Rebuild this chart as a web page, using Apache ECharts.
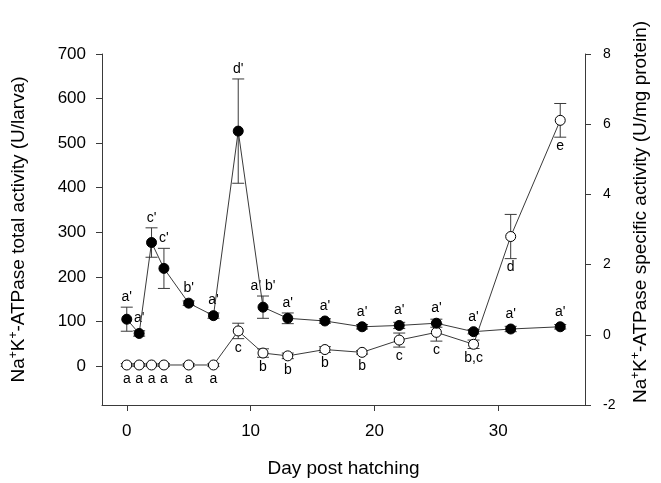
<!DOCTYPE html>
<html>
<head>
<meta charset="utf-8">
<script src="https://cdn.jsdelivr.net/npm/echarts@6/dist/echarts.min.js"></script>
<style>
  html, body { margin: 0; padding: 0; background: #fff; }
  #chart { width: 661px; height: 483px; }
</style>
</head>
<body>
<div id="chart"></div>
<script>
// day post hatching
const days = [0, 1, 2, 3, 5, 7, 9, 11, 13, 16, 19, 22, 25, 28, 31, 35];

// total activity (U/larva), left axis
const totalMean = [105, 73, 277, 219, 141, 113, 527, 132, 107, 101, 88, 91, 96, 77, 83, 88];
const totalSE = [27, 6, 33, 45, 5, 6, 117, 25, 12, 5, 5, 7, 9, 5, 6, 5];
const totalLetters = ["a'", "a'", "c'", "c'", "b'", "a'", "d'", "a' b'", "a'", "a'", "a'", "a'", "a'", "a'", "a'", "a'"];

// specific activity (U/mg protein), right axis
const specMean = [-0.86, -0.86, -0.86, -0.86, -0.86, -0.86, 0.11, -0.52, -0.6, -0.42, -0.5, -0.15, 0.07, -0.27, 2.8, 6.11];
const specSE = [0.04, 0.04, 0.04, 0.04, 0.04, 0.04, 0.22, 0.12, 0.08, 0.08, 0.05, 0.2, 0.25, 0.12, 0.63, 0.48];
const specLetters = ['a', 'a', 'a', 'a', 'a', 'a', 'c', 'b', 'b', 'b', 'b', 'c', 'c', 'b,c', 'd', 'e'];

const xTicks = [0, 10, 20, 30];
const leftTicks = [0, 100, 200, 300, 400, 500, 600, 700];

const font = 'Liberation Sans, Arial, sans-serif';
const ink = '#3a3a3a';

const totalPts = days.map((d, i) => [d, totalMean[i]]);
const specPts = days.map((d, i) => [d, specMean[i]]);
const totalBars = days.map((d, i) => [d, totalMean[i], totalSE[i], totalLetters[i]]);
const specBars = days.map((d, i) => [d, specMean[i], specSE[i], specLetters[i]]);

// error bar + significance letter; above for filled, below for open
function errorBar(above) {
  return function (params, api) {
    const x = api.value(0), m = api.value(1), se = api.value(2);
    const letter = api.value(3);
    const hi = api.coord([x, m + se]);
    const lo = api.coord([x, m - se]);
    const mid = api.coord([x, m]);
    const cap = 6;
    const st = { stroke: ink, lineWidth: 1 };
    const ty = above ? Math.min(hi[1], mid[1] - 5) - 3 : Math.max(lo[1], mid[1] + 5) + 2;
    return {
      type: 'group',
      children: [
        { type: 'line', shape: { x1: hi[0], y1: hi[1], x2: lo[0], y2: lo[1] }, style: st },
        { type: 'line', shape: { x1: hi[0] - cap, y1: hi[1], x2: hi[0] + cap, y2: hi[1] }, style: st },
        { type: 'line', shape: { x1: lo[0] - cap, y1: lo[1], x2: lo[0] + cap, y2: lo[1] }, style: st },
        {
          type: 'text',
          style: {
            x: mid[0], y: ty, text: letter,
            fontFamily: font, fontSize: 14, fill: '#000',
            align: 'center', verticalAlign: above ? 'bottom' : 'top'
          }
        }
      ]
    };
  };
}

function titleRich(tail) {
  return {
    formatter: '{n|Na}{s|+}{n|K}{s|+}{n|' + tail + '}',
    rich: {
      n: { fontFamily: font, fontSize: 19, color: '#000' },
      s: { fontFamily: font, fontSize: 12, color: '#000', verticalAlign: 'top', padding: [0, 0, 10, 0] }
    }
  };
}

const leftTitle = titleRich('-ATPase total activity (U/larva)');
const rightTitle = titleRich('-ATPase specific activity (U/mg protein)');

const chart = echarts.init(document.getElementById('chart'));

chart.setOption({
  backgroundColor: '#fff',
  animation: false,
  grid: { left: 99, right: 76, top: 54, bottom: 78 },
  xAxis: {
    type: 'value',
    min: -2,
    max: 37,
    name: 'Day post hatching',
    nameLocation: 'middle',
    nameGap: 54,
    nameTextStyle: { fontFamily: font, fontSize: 19, color: '#000' },
    splitLine: { show: false },
    axisLine: { onZero: false, lineStyle: { color: ink } },
    axisTick: { customValues: xTicks, length: 6, lineStyle: { color: ink } },
    axisLabel: { customValues: xTicks, fontFamily: font, fontSize: 17, color: '#000', margin: 18 }
  },
  yAxis: [
    {
      type: 'value',
      min: -87.5,
      max: 700,
      position: 'left',
      name: leftTitle.formatter,
      nameLocation: 'middle',
      nameRotate: 90,
      nameGap: 72,
      nameTextStyle: { rich: leftTitle.rich },
      splitLine: { show: false },
      axisLine: { show: true, onZero: false, lineStyle: { color: ink } },
      axisTick: { show: true, customValues: leftTicks, length: 6, lineStyle: { color: ink } },
      axisLabel: { customValues: leftTicks, fontFamily: font, fontSize: 17, color: '#000', margin: 16 }
    },
    {
      type: 'value',
      min: -2,
      max: 8,
      interval: 2,
      position: 'right',
      splitLine: { show: false },
      axisLine: { show: true, onZero: false, lineStyle: { color: ink } },
      axisTick: { show: true, length: 6, lineStyle: { color: ink } },
      axisLabel: { fontFamily: font, fontSize: 14, color: '#000', margin: 18 }
    }
  ],
  graphic: [
    {
      type: 'text',
      x: 641,
      y: 212,
      rotation: Math.PI / 2,
      style: {
        text: rightTitle.formatter,
        rich: rightTitle.rich,
        align: 'center',
        verticalAlign: 'middle'
      }
    }
  ],
  series: [
    {
      type: 'custom',
      yAxisIndex: 1,
      renderItem: errorBar(false),
      data: specBars,
      z: 2
    },
    {
      type: 'line',
      yAxisIndex: 1,
      data: specPts,
      symbol: 'circle',
      symbolSize: 10,
      lineStyle: { color: ink, width: 1 },
      itemStyle: { color: '#fff', borderColor: '#000', borderWidth: 1 },
      z: 3
    },
    {
      type: 'custom',
      yAxisIndex: 0,
      renderItem: errorBar(true),
      data: totalBars,
      z: 4
    },
    {
      type: 'line',
      yAxisIndex: 0,
      data: totalPts,
      symbol: 'circle',
      symbolSize: 10,
      lineStyle: { color: ink, width: 1 },
      itemStyle: { color: '#000', borderColor: '#000', borderWidth: 1 },
      z: 5
    }
  ]
});
</script>
</body>
</html>
